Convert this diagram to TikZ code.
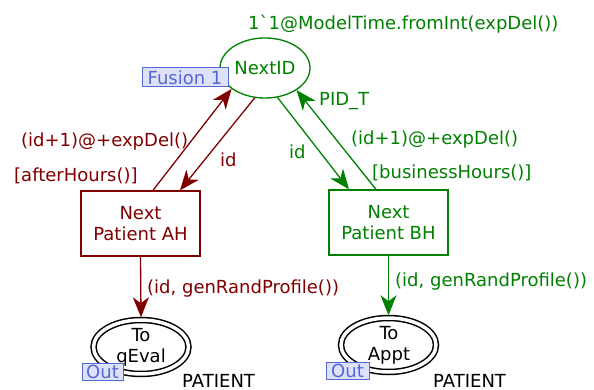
\documentclass[tikz,border=0pt]{standalone}
\usepackage{fontspec}
\setmainfont{DejaVu Sans}
\usetikzlibrary{arrows.meta,shapes.geometric}
\definecolor{ahred}{RGB}{128,0,0}
\definecolor{bhgreen}{RGB}{0,128,0}
\definecolor{tagfill}{RGB}{221,225,250}
\definecolor{tagblue}{RGB}{84,104,210}

\begin{document}
\begin{tikzpicture}[x=1pt,y=-1pt,
  font=\fontsize{18}{21}\selectfont,
  place/.style={ellipse, draw, line width=1.3pt, minimum width=90pt,
    minimum height=60pt, inner sep=0pt},
  ioplace/.style={ellipse, draw=black, double, double distance=3.5pt,
    line width=1.5pt, minimum width=95pt, minimum height=54pt,
    inner sep=0pt, outer sep=2.75pt},
  trans/.style={rectangle, draw, line width=1.3pt, minimum width=119pt,
    minimum height=65pt, inner sep=0pt, align=center},
  arc/.style={line width=1.3pt, -{Stealth[length=20pt,width=16pt,inset=6pt]}},
  tag/.style={rectangle, draw=tagblue, fill=tagfill, text=tagblue,
    line width=1pt, inner sep=0pt},
  lbl/.style={anchor=base west, inner sep=0pt},
  ptext/.style={align=center, inner sep=0pt}]

\useasboundingbox (0,0) rectangle (594,390);

% places
\node[place, draw=bhgreen, text=bhgreen] (nextid) at (265,68) {NextID};
\node[ioplace] (qeval) at (141,347) {};
\node[ptext] (qevaltxt) at (141,347.5) {To\\qEval};
\node[ioplace] (appt) at (388.5,345) {};
\node[ptext] (appttxt) at (389,345.5) {To\\Appt};

% transitions
\node[trans, draw=ahred, text=ahred] (ah) at (140.5,223.5) {Next\\Patient AH};
\node[trans, draw=bhgreen, text=bhgreen] (bh) at (388.5,222.5) {Next\\Patient BH};

% arcs
\draw[arc, ahred] ([xshift=12.5pt]ah.north) -- (nextid.212);
\draw[arc, ahred] (nextid.251) -- ([xshift=39.5pt]ah.north);
\draw[arc, bhgreen] (nextid.293) -- ([xshift=-39.5pt]bh.north);
\draw[arc, bhgreen] ([xshift=-12.5pt]bh.north) -- (nextid.325);
\draw[arc, ahred] (ah.south) -- (qeval.north);
\draw[arc, bhgreen] (bh.south) -- (appt.north);

% inscriptions
\node[lbl, text=bhgreen] (init) at (248,30) {1\textasciigrave 1@ModelTime.fromInt(expDel())};
\node[lbl, text=ahred] (ahout) at (21,147) {(id+1)@+expDel()};
\node[lbl, text=ahred] (ahguard) at (14,182) {[afterHours()]};
\node[lbl, text=ahred] (ahin) at (220,167) {id};
\node[lbl, text=bhgreen] (bhin) at (289,159) {id};
\node[lbl, text=bhgreen] (pidt) at (319,106) {PID\_T};
\node[lbl, text=bhgreen] (bhout) at (351,145) {(id+1)@+expDel()};
\node[lbl, text=bhgreen] (bhguard) at (372,179) {[businessHours()]};
\node[lbl, text=ahred] (ahgen) at (147,293) {(id, genRandProfile())};
\node[lbl, text=bhgreen] (bhgen) at (395,286) {(id, genRandProfile())};
\node[lbl] (qevaltype) at (182,387) {PATIENT};
\node[lbl] (appttype) at (433,387) {PATIENT};

% tags
\node[tag, minimum width=86pt, minimum height=19pt] (fusion) at (185,77.5) {Fusion 1};
\node[tag, minimum width=41pt, minimum height=17pt] (qevalout) at (102.5,371.5) {Out};
\node[tag, minimum width=43pt, minimum height=17pt] (apptout) at (347.5,370.5) {Out};
\end{tikzpicture}
\end{document}
